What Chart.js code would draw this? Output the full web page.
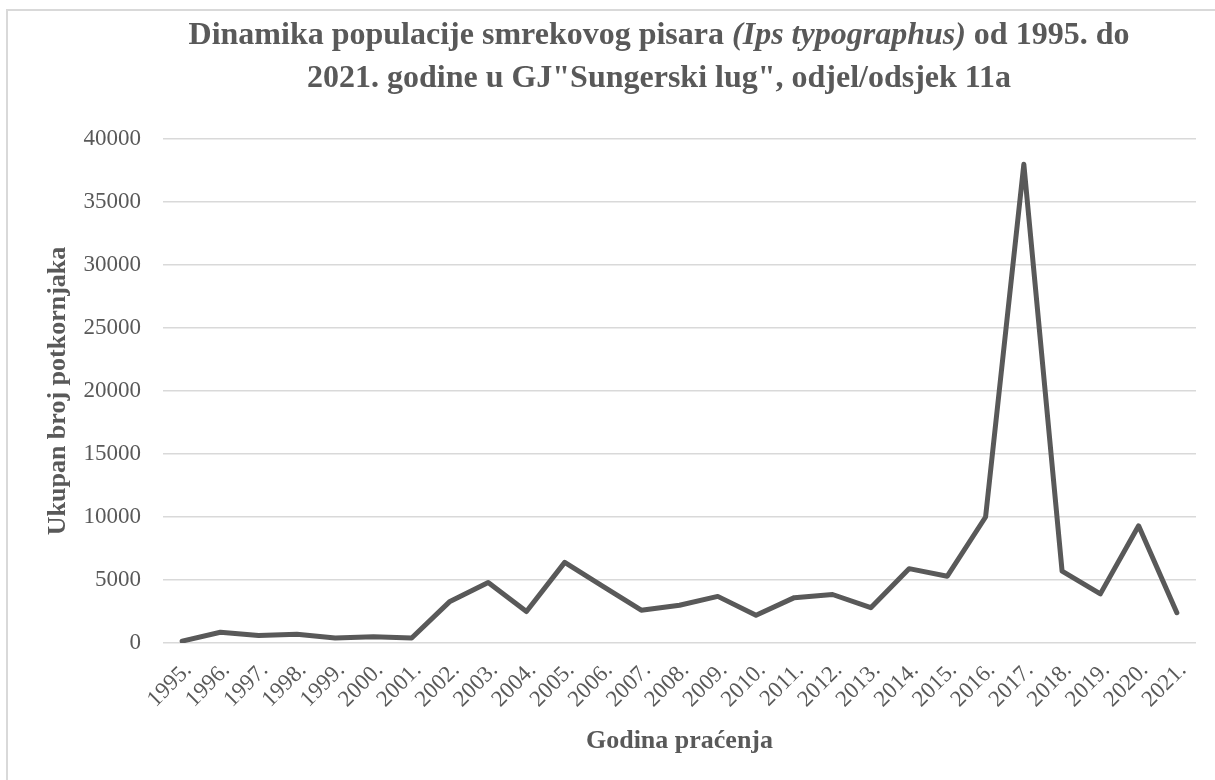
<!DOCTYPE html>
<html>
<head>
<meta charset="utf-8">
<title>Dinamika populacije smrekovog pisara</title>
<script src="https://cdn.jsdelivr.net/npm/chart.js@4.4.0/dist/chart.umd.min.js"></script>
<style>
  html, body { margin: 0; padding: 0; background: #fff; }
  #chart { display: block; }
</style>
</head>
<body>
<canvas id="chart" width="1215" height="780"></canvas>
<script>
;(function () {

    'use strict';

    // data
    var years = ['1995.', '1996.', '1997.', '1998.', '1999.', '2000.', '2001.', '2002.', '2003.',
                 '2004.', '2005.', '2006.', '2007.', '2008.', '2009.', '2010.', '2011.', '2012.',
                 '2013.', '2014.', '2015.', '2016.', '2017.', '2018.', '2019.', '2020.', '2021.'];
    var beetles = [150, 850, 600, 700, 400, 500, 400, 3300, 4800,
                   2500, 6400, 4500, 2600, 3000, 3700, 2200, 3600, 3850,
                   2800, 5900, 5300, 10000, 38000, 5700, 3900, 9300, 2400];
    var yTicks = [0, 5000, 10000, 15000, 20000, 25000, 30000, 35000, 40000];

    var titleLines = [
        [{text: 'Dinamika populacije smrekovog pisara ', italic: false},
         {text: '(Ips typographus)', italic: true},
         {text: ' od 1995. do', italic: false}],
        [{text: '2021. godine u GJ"Sungerski lug", odjel/odsjek 11a', italic: false}]
    ];
    var xTitle = 'Godina praćenja';
    var yTitle = 'Ukupan broj potkornjaka';

    var serif = "'Liberation Serif', 'Times New Roman', serif";
    var grey = '#595959';

    var plot = {left: 163, right: 1196, top: 139, bottom: 643};

    // outer frame + two line title with an italic part
    var framePlugin = {
        id: 'frame',
        beforeDraw: function (chart) {
            var ctx = chart.ctx;
            ctx.save();
            ctx.fillStyle = '#ffffff';
            ctx.fillRect(0, 0, chart.width, chart.height);
            ctx.strokeStyle = '#d9d9d9';
            ctx.lineWidth = 2;
            ctx.strokeRect(7, 10, chart.width + 20, chart.height + 20);
            ctx.restore();
        },
        afterDraw: function (chart) {
            var ctx = chart.ctx;
            var cx = 659;
            var baselines = [44, 87];
            ctx.save();
            ctx.fillStyle = grey;
            ctx.textBaseline = 'alphabetic';
            ctx.textAlign = 'left';
            titleLines.forEach(function (runs, i) {
                var total = 0;
                runs.forEach(function (r) {
                    ctx.font = (r.italic ? 'italic ' : '') + 'bold 32px ' + serif;
                    r.w = ctx.measureText(r.text).width;
                    total += r.w;
                });
                var x = cx - total / 2;
                runs.forEach(function (r) {
                    ctx.font = (r.italic ? 'italic ' : '') + 'bold 32px ' + serif;
                    ctx.fillText(r.text, x, baselines[i]);
                    x += r.w;
                });
            });
            ctx.restore();
        }
    };

    new Chart(document.getElementById('chart'), {
        type: 'line',
        data: {
            labels: years,
            datasets: [{
                data: beetles,
                borderColor: grey,
                backgroundColor: grey,
                borderWidth: 5,
                borderJoinStyle: 'round',
                borderCapStyle: 'round',
                pointRadius: 0,
                pointHoverRadius: 0,
                tension: 0,
                fill: false
            }]
        },
        options: {
            responsive: false,
            animation: false,
            events: [],
            layout: {
                padding: {left: 0, top: plot.top, right: 1215 - plot.right, bottom: 0}
            },
            plugins: {
                legend: {display: false},
                title: {display: false},
                tooltip: {enabled: false}
            },
            scales: {
                x: {
                    offset: true,
                    grid: {display: false, drawTicks: false},
                    border: {display: false},
                    ticks: {
                        autoSkip: false,
                        maxRotation: 45,
                        minRotation: 45,
                        padding: 14,
                        labelOffset: 6,
                        color: grey,
                        font: {family: serif, size: 23}
                    },
                    title: {
                        display: true,
                        text: xTitle,
                        color: grey,
                        font: {family: serif, size: 26, weight: 'bold'},
                        padding: {top: 0, bottom: 23}
                    },
                    afterFit: function (scale) { scale.height = 780 - plot.bottom; }
                },
                y: {
                    min: 0,
                    max: 40000,
                    afterBuildTicks: function (scale) {
                        scale.ticks = yTicks.map(function (v) { return {value: v}; });
                    },
                    grid: {color: '#d9d9d9', lineWidth: 1.5, drawTicks: false},
                    border: {display: false},
                    ticks: {
                        padding: 22,
                        color: grey,
                        font: {family: serif, size: 23},
                        callback: function (value) { return String(value); }
                    },
                    title: {
                        display: true,
                        text: yTitle,
                        color: grey,
                        font: {family: serif, size: 26, weight: 'bold'},
                        padding: {top: 43, bottom: 0}
                    },
                    afterFit: function (scale) { scale.width = plot.left; }
                }
            }
        },
        plugins: [framePlugin]
    });

}());
</script>
</body>
</html>
